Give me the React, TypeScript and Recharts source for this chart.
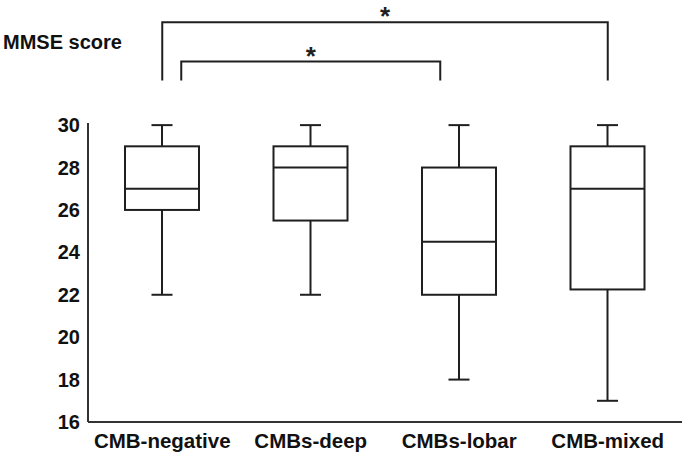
import React from 'react';
import { ComposedChart, Bar, XAxis, YAxis, ReferenceLine } from 'recharts';

// groups and box plot stats (MMSE score)
const groups = ['CMB-negative', 'CMBs-deep', 'CMBs-lobar', 'CMB-mixed'];
const mins = [22, 22, 18, 17];
const q1s = [26, 25.5, 22, 22.25];
const medians = [27, 28, 24.5, 27];
const q3s = [29, 29, 28, 29];
const maxs = [30, 30, 30, 30];
const yTicks = [16, 18, 20, 22, 24, 26, 28, 30];

// significance brackets (group pairs, heights in score units)
const bracketFrom = ['CMB-negative', 'CMB-negative'];
const bracketTo = ['CMB-mixed', 'CMBs-lobar'];
const bracketTop = [34.85, 33.0];
const bracketFoot = [32.11, 32.11];
const bracketInset = [0, 19];

const data = groups.map((g, i) => ({
  name: g,
  min: mins[i],
  q1: q1s[i],
  median: medians[i],
  q3: q3s[i],
  max: maxs[i],
}));

const INK = '#1f1f1f';
const FONT = '"Liberation Sans", Arial, sans-serif';

const BoxShape = (props: any) => {
  const { x, y, width, height, payload } = props;
  const top = Math.min(y, y + height);
  const h = Math.abs(height);
  const { min, max, q1, q3, median } = payload;
  const perUnit = h / (max - min);
  const py = (v: number) => top + (max - v) * perUnit;
  const cx = x + width / 2;
  const cap = 10.5;
  return (
    <g stroke={INK} strokeWidth={2} fill="none">
      <line x1={cx} x2={cx} y1={py(max)} y2={py(q3)} />
      <line x1={cx} x2={cx} y1={py(q1)} y2={py(min)} />
      <line x1={cx - cap} x2={cx + cap} y1={py(max)} y2={py(max)} />
      <line x1={cx - cap} x2={cx + cap} y1={py(min)} y2={py(min)} />
      <rect x={x} y={py(q3)} width={width} height={py(q1) - py(q3)} fill="#fff" />
      <line x1={x} x2={x + width} y1={py(median)} y2={py(median)} />
    </g>
  );
};

// segment goes from (left group, foot) to (right group, top)
const bracketShape = (inset: number) => (props: any) => {
  const { x1, y1, x2, y2 } = props;
  const l = Math.min(x1, x2) + inset;
  const r = Math.max(x1, x2) - inset;
  const foot = Math.max(y1, y2);
  const top = Math.min(y1, y2);
  return (
    <path
      d={`M${l},${foot}V${top}H${r}V${foot}`}
      stroke={INK}
      strokeWidth={2}
      fill="none"
    />
  );
};

const Star = ({ viewBox }: any) => (
  <text
    x={viewBox.x + viewBox.width / 2}
    y={viewBox.y + 3}
    textAnchor="middle"
    fontFamily={FONT}
    fontWeight="bold"
    fontSize={26}
    fill={INK}
  >
    *
  </text>
);

const YTitle = () => (
  <text x={3} y={49} fontFamily={FONT} fontWeight="bold" fontSize={20} fill="#111">
    MMSE score
  </text>
);

export default function App() {
  return (
    <div style={{ position: 'absolute', left: 0, top: 0, background: '#fff' }}>
      <ComposedChart
        width={685}
        height={456}
        data={data}
        margin={{ top: 123, right: 3, bottom: 0, left: 0 }}
      >
        <XAxis
          dataKey="name"
          height={34}
          tickLine={false}
          tickMargin={5}
          axisLine={{ stroke: '#333', strokeWidth: 2 }}
          tick={{ fill: '#111', fontSize: 20.5, fontWeight: 'bold', fontFamily: FONT }}
          interval={0}
        />
        <YAxis
          width={88}
          domain={[16, 30.1]}
          ticks={yTicks}
          allowDataOverflow
          tickLine={false}
          axisLine={{ stroke: '#333', strokeWidth: 2 }}
          tick={{ fill: '#111', fontSize: 20, fontWeight: 'bold', fontFamily: FONT }}
          label={<YTitle />}
        />
        <Bar
          dataKey={(d: any) => [d.min, d.max]}
          barSize={74}
          shape={<BoxShape />}
          isAnimationActive={false}
        />
        {bracketFrom.map((from, i) => (
          <ReferenceLine
            key={`br-${i}`}
            ifOverflow="visible"
            segment={[
              { x: from, y: bracketFoot[i] },
              { x: bracketTo[i], y: bracketTop[i] },
            ]}
            shape={bracketShape(bracketInset[i])}
            label={<Star />}
          />
        ))}
      </ComposedChart>
    </div>
  );
}
